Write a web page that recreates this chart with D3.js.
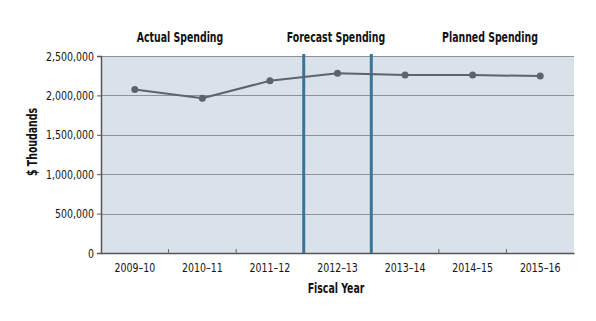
<!DOCTYPE html>
<html><head><meta charset="utf-8">
<script src="https://cdn.jsdelivr.net/npm/d3@7"></script>
<style>
html,body{margin:0;padding:0;background:#fff;}
text{font-family:"Liberation Sans Narrow","DejaVu Sans Condensed","Liberation Sans",sans-serif;fill:#111;}
</style></head>
<body><svg id="c" width="596" height="321"></svg>
<script>
const categories = ["2009–10","2010–11","2011–12","2012–13","2013–14","2014–15","2015–16"];
const spending = [2075000, 1965000, 2185000, 2280000, 2258000, 2258000, 2245000];
const yTicks = [0, 500000, 1000000, 1500000, 2000000, 2500000];
const sectionLabels = ["Actual Spending","Forecast Spending","Planned Spending"];
const sectionCenters = [180, 336, 490];
const dividers = ["2012–13","2013–14"];

const svg = d3.select("#c");
const L = 101, R = 574, T = 56, B = 253;
const x = d3.scaleBand().domain(categories).range([L, R]);
const y = d3.scaleLinear().domain([0, 2500000]).range([B, T]);

// horizontally condense text to a target width measured from a reference element
function squeeze(sel, f) {
  sel.each(function () {
    const t = d3.select(this);
    const tx = +t.attr("x") || 0, ty = +t.attr("y") || 0;
    const prev = t.attr("transform") || "";
    t.attr("x", 0).attr("y", 0).attr("transform", `${prev} translate(${tx},${ty}) scale(${f},1)`);
  });
}

svg.append("rect").attr("x", L).attr("y", T).attr("width", R - L).attr("height", B - T).attr("fill", "#d9e2ea");

svg.append("g").selectAll("line").data(yTicks.filter(d => d > 0)).join("line")
  .attr("x1", L).attr("x2", R).attr("y1", d => Math.round(y(d)) + 0.5).attr("y2", d => Math.round(y(d)) + 0.5)
  .attr("stroke", "#8d9399").attr("stroke-width", 1.2);

const yAxis = svg.append("g").attr("transform", `translate(${L},0)`)
  .call(d3.axisLeft(y).tickValues(yTicks).tickSize(4).tickPadding(3).tickFormat(d3.format(",")));
yAxis.select(".domain").attr("stroke", "#555").attr("stroke-width", 1.5);
yAxis.selectAll(".tick line").attr("stroke", "#555");
yAxis.selectAll("text").style("font-size", "13px").attr("fill", "#111");

const xAxis = svg.append("g").attr("transform", `translate(0,${B})`)
  .call(d3.axisBottom(x).tickSize(0).tickPadding(9.5));
xAxis.select(".domain").attr("stroke", "#555").attr("stroke-width", 1.5);
xAxis.selectAll("text").style("font-size", "13px").attr("fill", "#111");
svg.append("g").selectAll("line").data(categories.slice(1)).join("line")
  .attr("x1", d => x(d)).attr("x2", d => x(d)).attr("y1", B - 4).attr("y2", B)
  .attr("stroke", "#666").attr("stroke-width", 1);

svg.append("g").selectAll("line").data(dividers).join("line")
  .attr("x1", d => x(d)).attr("x2", d => x(d)).attr("y1", T - 2).attr("y2", B)
  .attr("stroke", "#3a7598").attr("stroke-width", 3);

const line = d3.line().x((d, i) => x(categories[i]) + x.bandwidth() / 2).y(d => y(d));
svg.append("path").datum(spending).attr("d", line).attr("fill", "none")
  .attr("stroke", "#5b636b").attr("stroke-width", 2);
svg.append("g").selectAll("circle").data(spending).join("circle")
  .attr("cx", (d, i) => x(categories[i]) + x.bandwidth() / 2).attr("cy", d => y(d)).attr("r", 3.5)
  .attr("fill", "#5b636b");

const titles = svg.append("g").selectAll("text").data(sectionLabels).join("text")
  .attr("x", (d, i) => sectionCenters[i]).attr("y", 42).attr("text-anchor", "middle")
  .style("font-size", "14px").style("font-weight", "bold").text(d => d);

const xTitle = svg.append("text").attr("x", 336).attr("y", 293).attr("text-anchor", "middle")
  .style("font-size", "14px").style("font-weight", "bold").text("Fiscal Year");

const yTitle = svg.append("text").attr("text-anchor", "middle")
  .attr("transform", "translate(37,142) rotate(-90)")
  .style("font-size", "14px").style("font-weight", "bold").text("$  Thoudands");

// fit widths to the reference
const yTickTexts = yAxis.selectAll("text");
const wTick = yTickTexts.filter(d => d === 2500000).node().getComputedTextLength();
const fTick = 48 / wTick;
squeeze(yTickTexts, fTick);
squeeze(xAxis.selectAll("text"), fTick);
const fTitle = 86.6 / titles.filter(d => d === "Actual Spending").node().getComputedTextLength();
squeeze(titles, fTitle);
squeeze(xTitle, fTitle);
squeeze(yTitle, fTitle);
</script></body></html>
